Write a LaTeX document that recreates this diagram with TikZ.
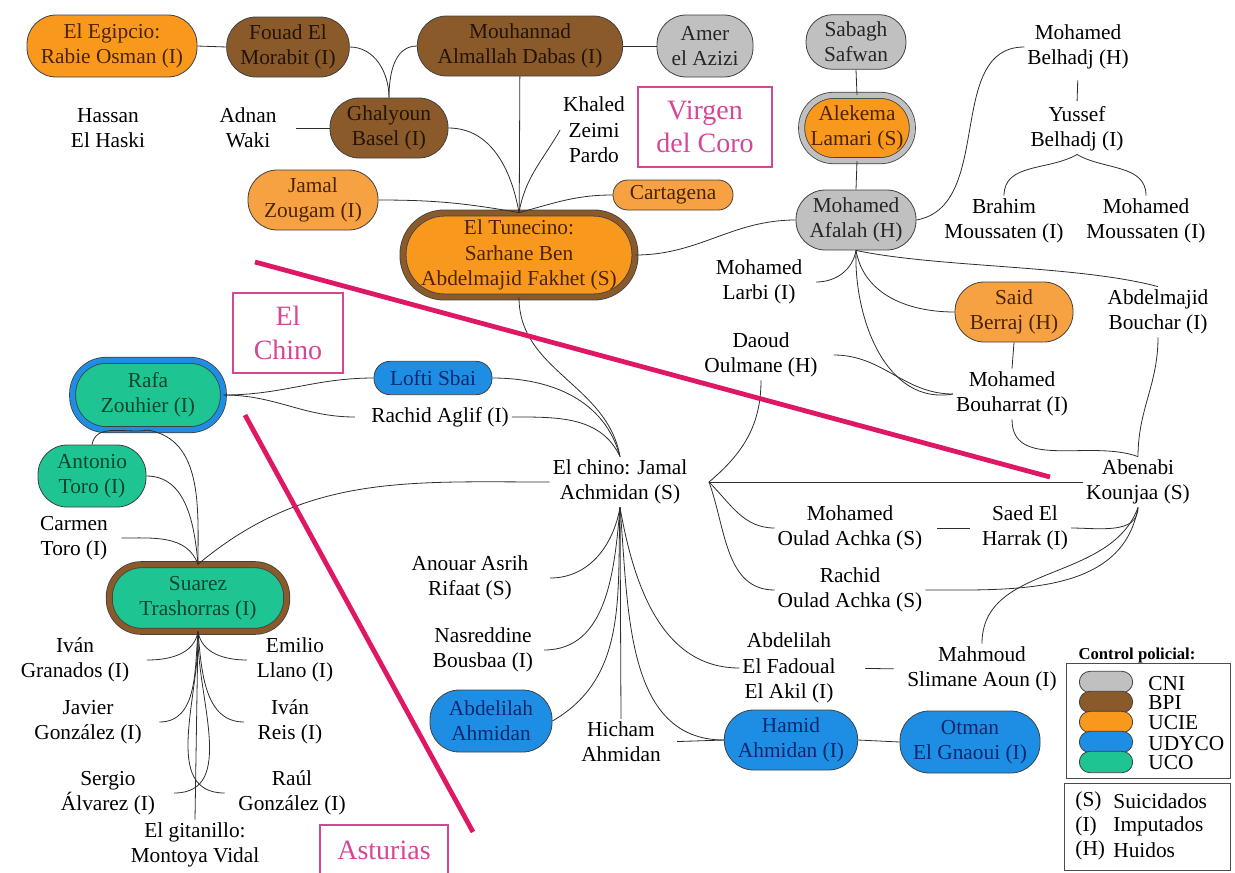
\documentclass[tikz,border=0pt]{standalone}
\usepackage{fontspec}
\setmainfont{Liberation Serif}
\usepackage{tikz}
\usetikzlibrary{calc}
\usepackage{xcolor}
\definecolor{cnigrey}{RGB}{192,192,192}
\definecolor{bpibrown}{RGB}{139,90,43}
\definecolor{ucieorange}{RGB}{248,152,28}
\definecolor{ucielight}{RGB}{247,162,66}
\definecolor{udycoblue}{RGB}{30,142,228}
\definecolor{ucogreen}{RGB}{30,196,146}
\definecolor{zonepink}{RGB}{214,70,150}
\definecolor{cutmagenta}{RGB}{222,24,100}
\definecolor{linkgrey}{RGB}{45,45,45}
\definecolor{uciefont}{RGB}{75,35,0}
\definecolor{bpifont}{RGB}{35,20,5}
\definecolor{udycofont}{RGB}{10,40,110}
\definecolor{ucofont}{RGB}{10,70,45}
\tikzset{every picture/.style={line width=0.6pt}}

\begin{document}
\begin{tikzpicture}[x=0.75pt,y=0.75pt,yscale=-1,xscale=1,
  every node/.style={font=\fontsize{16}{19}\selectfont},
  pill/.style={rectangle, rounded corners=22pt, draw=black!75, align=center, inner sep=1pt, minimum height=45pt},
  cni/.style={pill, fill=cnigrey, text=black!85},
  bpi/.style={pill, fill=bpibrown, text=bpifont},
  ucie/.style={pill, fill=ucieorange, text=uciefont},
  udyco/.style={pill, fill=udycoblue, text=udycofont},
  uco/.style={pill, fill=ucogreen, text=ucofont},
  ring/.style={double=#1, double distance=4pt},
  person/.style={align=center, inner sep=2pt},
  zone/.style={rectangle, draw=zonepink, text=zonepink, line width=1.3pt, align=center, font=\fontsize{21}{25}\selectfont},
  link/.style={draw=linkgrey},
  cut/.style={draw=cutmagenta, line width=3.6pt}]
\useasboundingbox (0,0) rectangle (1235,872);

% Rounded Rect
\node [ucie, minimum width=127.5pt, minimum height=46.5pt] (egipcio) at (112,46) {El Egipcio:\\Rabie Osman (I)};
\node [bpi, minimum width=92pt] (fouad) at (288,47) {Fouad El\\Morabit (I)};
\node [bpi, minimum width=154pt] (mouhannad) at (520,46) {Mouhannad\\Almallah Dabas (I)};
\node [cni, minimum width=72pt, minimum height=46.5pt] (amer) at (705,46) {Amer\\el Azizi};
\node [cni, minimum width=75pt, minimum height=41pt, rounded corners=20pt] (sabagh) at (856,42) {Sabagh\\Safwan};
\node [bpi, minimum width=88.5pt] (ghalyoun) at (389,128) {Ghalyoun\\Basel (I)};
\node [ucie, fill=ucielight, minimum width=97.5pt] (zougam) at (313,200) {Jamal\\Zougam (I)};
\node [ucie, fill=ucielight, minimum width=90pt, minimum height=22.5pt, rounded corners=11pt] (cartagena) at (673,195) {Cartagena};
\node [ucie, ring=bpibrown, minimum width=174pt, minimum height=63pt, rounded corners=31pt] (tunecino) at (519,255) {El Tunecino:\\Sarhane Ben\\Abdelmajid Fakhet (S)};
\node [ucie, ring=cnigrey, minimum width=83pt, minimum height=49pt, rounded corners=24pt] (alekema) at (857,128) {Alekema\\Lamari (S)};
\node [cni, minimum width=90pt] (afalah) at (856,220) {Mohamed\\Afalah (H)};
\node [ucie, fill=ucielight, minimum width=88.5pt] (said) at (1014,312) {Said\\Berraj (H)};
\node [uco, ring=udycoblue, minimum width=113pt, minimum height=52pt, rounded corners=25pt] (rafa) at (148,395) {Rafa\\Zouhier (I)};
\node [udyco, minimum width=88.5pt, minimum height=25pt, rounded corners=12pt] (lofti) at (433,378) {Lofti Sbai};
\node [uco, minimum width=81pt, minimum height=46.5pt] (antonio) at (92,476) {Antonio\\Toro (I)};
\node [uco, ring=bpibrown, minimum width=133pt, minimum height=50pt, rounded corners=24pt] (suarez) at (198,598) {Suarez\\Trashorras (I)};
\node [udyco, minimum width=91.5pt, minimum height=46.5pt] (abdelilahA) at (491,721) {Abdelilah\\Ahmidan};
\node [udyco, minimum width=100pt] (hamid) at (791,740) {Hamid\\Ahmidan (I)};
\node [udyco, minimum width=105pt, minimum height=46.5pt] (otman) at (970,742) {Otman\\El Gnaoui (I)};

% Zone labels
\node [zone, minimum width=100pt, minimum height=60pt] (virgen) at (705,127) {Virgen\\del Coro};
\node [zone, minimum width=82.5pt, minimum height=60pt] (chinozone) at (288,333) {El\\Chino};
\node [zone, minimum width=96pt, minimum height=37.5pt] (asturias) at (384,850) {Asturias};

% Text Node
\node [person] (belhadjM) at (1078,47) {Mohamed\\Belhadj (H)};
\node [person] (belhadjY) at (1077,129) {Yussef\\Belhadj (I)};
\node [person] (brahim) at (1004,221) {Brahim\\Moussaten (I)};
\node [person] (moussatenM) at (1146,221) {Mohamed\\Moussaten (I)};
\node [person] (haski) at (108,128) {Hassan\\El Haski};
\node [person] (waki) at (248,128) {Adnan\\Waki};
\node [person] (khaled) at (594,130) {Khaled\\Zeimi\\Pardo};
\node [person] (larbi) at (759,282) {Mohamed\\Larbi (I)};
\node [person] (bouchar) at (1158,312) {Abdelmajid\\Bouchar (I)};
\node [person] (bouharrat) at (1012,394) {Mohamed\\Bouharrat (I)};
\node [person] (daoud) at (761,355) {Daoud\\Oulmane (H)};
\node [person] (aglif) at (440,417) {Rachid Aglif (I)};
\node [person] (chino) at (620,482) {El chino: Jamal\\Achmidan (S)};
\node [person] (abenabi) at (1138,482) {Abenabi\\Kounjaa (S)};
\node [person] (carmen) at (74,538) {Carmen\\Toro (I)};
\node [person] (ouladM) at (850,528) {Mohamed\\Oulad Achka (S)};
\node [person] (saed) at (1025,528) {Saed El\\Harrak (I)};
\node [person] (ouladR) at (850,590) {Rachid\\Oulad Achka (S)};
\node [person] (anouar) at (470,578) {Anouar Asrih\\Rifaat (S)};
\node [person] (nasreddine) at (483,650) {Nasreddine\\Bousbaa (I)};
\node [person] (hicham) at (621,742) {Hicham\\Ahmidan};
\node [person] (fadoual) at (789,668) {Abdelilah\\El Fadoual\\El Akil (I)};
\node [person] (mahmoud) at (982,669) {Mahmoud\\Slimane Aoun (I)};
\node [person] (granados) at (75,660) {Iván\\Granados (I)};
\node [person] (llano) at (295,660) {Emilio\\Llano (I)};
\node [person] (javier) at (88,722) {Javier\\González (I)};
\node [person] (reis) at (290,722) {Iván\\Reis (I)};
\node [person] (sergio) at (108,793) {Sergio\\Álvarez (I)};
\node [person] (raul) at (292,793) {Raúl\\González (I)};
\node [person] (gitanillo) at (195,845) {El gitanillo:\\Montoya Vidal};

\coordinate (chinoE) at ([xshift=14pt]chino.east);

%Straight Lines
\draw [link] (egipcio.east) -- (fouad.west);
\draw [link] (mouhannad.east) -- (amer.west);
\draw [link, shorten <=12pt] (waki.east) -- (ghalyoun.west);
\draw [link] (mouhannad) -- (tunecino);
\draw [link] (sabagh.south) -- (alekema.north);
\draw [link] (alekema.south) -- (afalah.north);
\draw [link, shorten <=6pt, shorten >=2pt] (belhadjM.south) -- (belhadjY.north);
\draw [link] (said.south) -- (bouharrat.north);
\draw [link] (chinoE) -- (abenabi.west);
\draw [link, shorten <=9pt, shorten >=7pt] (ouladM.east) -- (saed.west);
\draw [link, shorten <=20pt, shorten >=8pt] (fadoual.east) -- (mahmoud.west);
\draw [link, shorten <=10pt] (hicham.east) -- (hamid.west);
\draw [link] (hamid.east) -- (otman.west);
\draw [link] (chino.south) -- (hicham.north);
\draw [link] (suarez.south) -- (gitanillo.north);

%Curve Lines
\draw [link] (fouad.east) to[out=0,in=-90] (ghalyoun.north);
\draw [link] (ghalyoun.north) to[out=-90,in=180] (mouhannad.west);
\draw [link] (ghalyoun.east) to[out=0,in=-100] (tunecino.north);
\draw [link] (khaled.west) to[out=120,in=-80] (tunecino.north);
\draw [link] (zougam.east) to[out=0,in=-170] (tunecino.north);
\draw [link] (cartagena.west) to[out=180,in=-15] (tunecino.north);
\draw [link] (tunecino.east) to[out=0,in=180] (afalah.west);
\draw [link] (afalah.east) to[out=-10,in=180] (belhadjM.west);
\draw [link] (belhadjY.south) to[out=150,in=-90] (brahim.north);
\draw [link] (belhadjY.south) to[out=30,in=-90] (moussatenM.north);
\draw [link] (afalah.south) to[out=100,in=0] ([xshift=8pt]larbi.east);
\draw [link] (afalah.south) to[out=80,in=180] (said.west);
\draw [link] (afalah.south) to[out=92,in=170] (bouharrat.west);
\draw [link] (afalah.south) to[out=12,in=-165,looseness=0.7] (bouchar.north);
\draw [link] ([xshift=10pt]daoud.east) to[out=0,in=180] (bouharrat.west);
\draw [link] (daoud.south) to[out=90,in=-40] (chinoE);
\draw [link] (bouchar.south) to[out=90,in=-90] (abenabi.north);
\draw [link] (bouharrat.south) to[out=90,in=-160] (abenabi.north);
\draw [link] (chinoE) to[out=45,in=180] (ouladM.west);
\draw [link] (chinoE) to[out=70,in=180] (ouladR.west);
\draw [link] (saed.east) to[out=0,in=90] (abenabi.south);
\draw [link] (ouladR.east) to[out=0,in=100] (abenabi.south);
\draw [link] (mahmoud.north) to[out=-90,in=110] (abenabi.south);
\draw [link] (tunecino.south) to[out=90,in=-100] (chino.north);
\draw [link] (lofti.east) to[out=0,in=-105] (chino.north);
\draw [link] (aglif.east) to[out=0,in=-115] (chino.north);
\draw [link] (rafa.east) to[out=0,in=180] (lofti.west);
\draw [link] (rafa.east) to[out=0,in=180] ([xshift=-10pt]aglif.west);
\draw [link] (chino.west) to[out=180,in=-40] (suarez.north);
\draw [link] (rafa.south) to[out=170,in=-80] (antonio.north);
\draw [link] (rafa.south) to[out=10,in=-90] (suarez.north);
\draw [link] (antonio.east) to[out=0,in=-95] (suarez.north);
\draw [link] ([xshift=8pt]carmen.east) to[out=0,in=-110] (suarez.north);
\draw [link] (chino.south) to[out=100,in=0] ([xshift=14pt]anouar.east);
\draw [link] (chino.south) to[out=95,in=0] ([xshift=6pt]nasreddine.east);
\draw [link] (chino.south) to[out=92,in=-30] (abdelilahA.east);
\draw [link] (chino.south) to[out=85,in=180] (hamid.west);
\draw [link] (chino.south) to[out=80,in=180] (fadoual.west);
\draw [link] (suarez.south) to[out=100,in=0] ([xshift=11pt]granados.east);
\draw [link] (suarez.south) to[out=80,in=180] ([xshift=-5pt]llano.west);
\draw [link] (suarez.south) to[out=95,in=0] ([xshift=11pt]javier.east);
\draw [link] (suarez.south) to[out=85,in=180] ([xshift=-8pt]reis.west);
\draw [link] (suarez.south) to[out=92,in=0] ([xshift=12pt]sergio.east);
\draw [link] (suarez.south) to[out=88,in=180] ([xshift=-8pt]raul.west);

% Dividing lines
\draw [cut] (255,262) -- (1050,477);
\draw [cut] (245,415) -- (473,832);

% Legend
\node [font=\bfseries\fontsize{12.5}{15}\selectfont] (legtitle) at (1137,655) {Control policial:};
\draw [draw=black!70] (1066,663) rectangle (1230,778);
\node [cni, minimum width=40pt, minimum height=16pt, rounded corners=8pt] (keycni) at (1106,682) {};
\node [bpi, minimum width=40pt, minimum height=16pt, rounded corners=8pt] (keybpi) at (1106,702) {};
\node [ucie, minimum width=40pt, minimum height=16pt, rounded corners=8pt] (keyucie) at (1106,722) {};
\node [udyco, minimum width=40pt, minimum height=16pt, rounded corners=8pt] (keyudyco) at (1106,742) {};
\node [uco, minimum width=40pt, minimum height=16pt, rounded corners=8pt] (keyuco) at (1106,762) {};
\node [anchor=west, inner sep=0pt] (labcni) at (1148,684) {CNI};
\node [anchor=west, inner sep=0pt] (labbpi) at (1148,703) {BPI};
\node [anchor=west, inner sep=0pt] (labucie) at (1148,723) {UCIE};
\node [anchor=west, inner sep=0pt] (labudyco) at (1148,744) {UDYCO};
\node [anchor=west, inner sep=0pt] (labuco) at (1148,763) {UCO};
\draw [draw=black!70] (1064,783) rectangle (1230,870);
\node [anchor=west, inner sep=0pt] (tagS) at (1075,801) {(S)};
\node [anchor=west, inner sep=0pt] (keyS) at (1113,801) {Suicidados};
\node [anchor=west, inner sep=0pt] (tagI) at (1075,826) {(I)};
\node [anchor=west, inner sep=0pt] (keyI) at (1113,826) {Imputados};
\node [anchor=west, inner sep=0pt] (tagH) at (1075,850) {(H)};
\node [anchor=west, inner sep=0pt] (keyH) at (1113,850) {Huidos};
\end{tikzpicture}
\end{document}
